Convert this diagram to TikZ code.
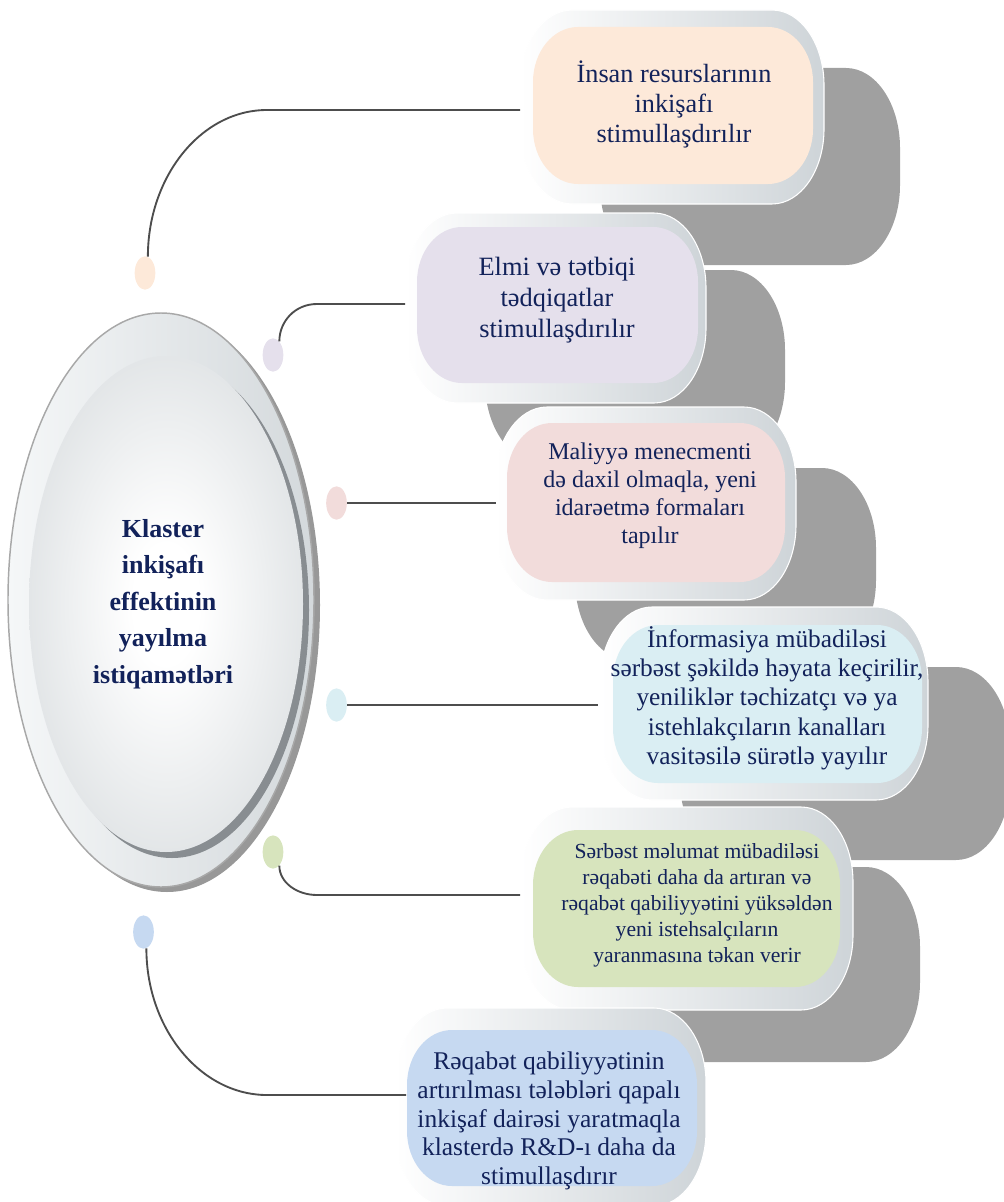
\documentclass[tikz,border=0pt]{standalone}
\usepackage{fontspec}
\setmainfont{Liberation Serif}
\usetikzlibrary{shapes.geometric}
\definecolor{navy}{RGB}{18,34,90}
\definecolor{linecol}{RGB}{77,77,77}
\definecolor{cpeach}{RGB}{253,233,217}
\definecolor{clav}{RGB}{229,224,236}
\definecolor{cpink}{RGB}{242,220,219}
\definecolor{clblue}{RGB}{218,238,243}
\definecolor{cgreen}{RGB}{215,228,189}
\definecolor{cblue}{RGB}{198,217,241}
\definecolor{shadowgray}{RGB}{160,160,160}
\definecolor{framegray}{RGB}{206,212,216}
\definecolor{ringlight}{RGB}{245,247,248}
\definecolor{ringdark}{RGB}{212,217,220}
\definecolor{ringedge}{RGB}{168,168,168}
\definecolor{ringshadow}{RGB}{152,152,152}
\definecolor{innershadow}{RGB}{136,141,145}
\definecolor{ellgray}{RGB}{190,197,201}
\pgfdeclareradialshading{ellshade}{\pgfpoint{0bp}{0bp}}{color(0bp)=(white); color(6bp)=(white); color(50bp)=(ellgray); color(75bp)=(ellgray)}
% #1 options, #2 x1, #3 y1, #4 x2, #5 y2, #6 rx, #7 ry
\newcommand\rshape[7]{%
  \path[#1] (#2+#6,#3) -- (#4-#6,#3)
    .. controls (#4-0.448*#6,#3) and (#4,#3+0.448*#7) .. (#4,#3+#7)
    -- (#4,#5-#7)
    .. controls (#4,#5-0.448*#7) and (#4-0.448*#6,#5) .. (#4-#6,#5)
    -- (#2+#6,#5)
    .. controls (#2+0.448*#6,#5) and (#2,#5-0.448*#7) .. (#2,#5-#7)
    -- (#2,#3+#7)
    .. controls (#2,#3+0.448*#7) and (#2+0.448*#6,#3) .. (#2+#6,#3) -- cycle;}
\newcommand\itembox[4]{% #1 gray x1,y1,x2,y2 ; #2 frame ; #3 inner ; #4 colour
  \rshape{fill=shadowgray}#1{54}{80}%
  \rshape{left color=white, right color=framegray, draw=white, line width=0.8pt}#2{52}{75}%
  \rshape{fill=#4}#3{45}{55}}
\newcommand\itemnoshadow[3]{%
  \rshape{left color=white, right color=framegray, draw=white, line width=0.8pt}#1{52}{75}%
  \rshape{fill=#3}#2{45}{55}}
\tikzset{
  conn/.style={draw=linecol, line width=1.4pt},
  dotnode/.style={ellipse, minimum width=15.5pt, minimum height=25pt, inner sep=0pt},
  txt/.style={text=navy, align=center, inner sep=0pt}
}
\begin{document}
\begin{tikzpicture}[x=0.75pt,y=-0.75pt]
\useasboundingbox (0,0) rectangle (1003,1202);

% central ellipse
\fill[ringshadow] (167,605) ellipse [x radius=153, y radius=287];
\path[draw=ringedge, line width=1.1pt, left color=ringlight, right color=ringdark] (161,600) ellipse [x radius=153, y radius=287];
\fill[innershadow] (172,610) ellipse [x radius=137, y radius=248];
\path[shading=ellshade] (166,604) ellipse [x radius=137, y radius=248];
\node[txt, font=\bfseries\fontsize{19.5pt}{27.4pt}\selectfont] (tc) at (163,604)
  {Klaster\\inkişafı\\effektinin\\yayılma\\istiqamətləri};

% item boxes
\itembox{{600}{68}{900}{265}}{{520}{10}{824}{204}}{{533}{27}{813}{184}}{cpeach}
\itembox{{485}{270}{785}{462}}{{405}{213}{706}{403}}{{417}{227}{698}{383}}{clav}
\itembox{{575}{468}{876}{660}}{{495}{407}{796}{600}}{{507}{423}{785}{582}}{cpink}
\itembox{{680}{667}{1010}{860}}{{600}{607}{928}{800}}{{613}{625}{922}{783}}{clblue}
\itembox{{600}{867}{920}{1062}}{{520}{807}{853}{1010}}{{533}{830}{840}{987}}{cgreen}
\itemnoshadow{{395}{1008}{706}{1206}}{{407}{1030}{697}{1186}}{cblue}

% texts
\node[txt, font=\fontsize{19.7pt}{22.5pt}\selectfont] (t1) at (674,104)
  {İnsan resurslarının\\inkişafı\\stimullaşdırılır};
\node[txt, font=\fontsize{19.8pt}{23.2pt}\selectfont] (t2) at (557,300)
  {Elmi və tətbiqi\\tədqiqatlar\\stimullaşdırılır};
\node[txt, font=\fontsize{18pt}{21pt}\selectfont] (t3) at (650,496)
  {Maliyyə menecmenti\\də daxil olmaqla, yeni\\idarəetmə formaları\\tapılır};
\node[txt, font=\fontsize{19pt}{22pt}\selectfont] (t4) at (767,698)
  {İnformasiya mübadiləsi\\sərbəst şəkildə həyata keçirilir,\\yeniliklər təchizatçı və ya\\istehlakçıların kanalları\\vasitəsilə sürətlə yayılır};
\node[txt, font=\fontsize{16.2pt}{19.5pt}\selectfont] (t5) at (697,905)
  {Sərbəst məlumat mübadiləsi\\rəqabəti daha da artıran və\\rəqabət qabiliyyətini yüksəldən\\yeni istehsalçıların\\yaranmasına təkan verir};
\node[txt, font=\fontsize{19.1pt}{21.5pt}\selectfont] (t6) at (549,1121)
  {Rəqabət qabiliyyətinin\\artırılması tələbləri qapalı\\inkişaf dairəsi yaratmaqla\\klasterdə R\&D-ı daha da\\stimullaşdırır};

% dots
\node[dotnode, fill=cpeach] (d1) at (145,273) {};
\node[dotnode, fill=clav] (d2) at (273,355) {};
\node[dotnode, fill=cpink] (d3) at (336.5,503) {};
\node[dotnode, fill=clblue] (d4) at (336.5,705) {};
\node[dotnode, fill=cgreen] (d5) at (273,852) {};
\node[dotnode, fill=cblue] (d6) at (143.5,932) {};

% connector ends
\coordinate (k1) at (267,110);  \coordinate (f1) at (520,110);
\coordinate (k2) at (317,304);  \coordinate (f2) at (405,304);
\coordinate (f3) at (496,503);
\coordinate (f4) at (598,705);
\coordinate (k5) at (317,895);  \coordinate (f5) at (520,895);
\coordinate (k6) at (267,1095); \coordinate (f6) at (406,1095);

\draw[conn] (d1.80) .. controls +(0,-80) and +(-66,0) .. (k1) -- (f1);
\draw[conn] (d2.65) .. controls +(0,-20) and +(-22,0) .. (k2) -- (f2);
\draw[conn] (d3.east) -- (f3);
\draw[conn] (d4.east) -- (f4);
\draw[conn] (d5.-65) .. controls +(0,17) and +(-20,0) .. (k5) -- (f5);
\draw[conn] (d6.-80) .. controls +(0,81) and +(-66,0) .. (k6) -- (f6);
\end{tikzpicture}
\end{document}
